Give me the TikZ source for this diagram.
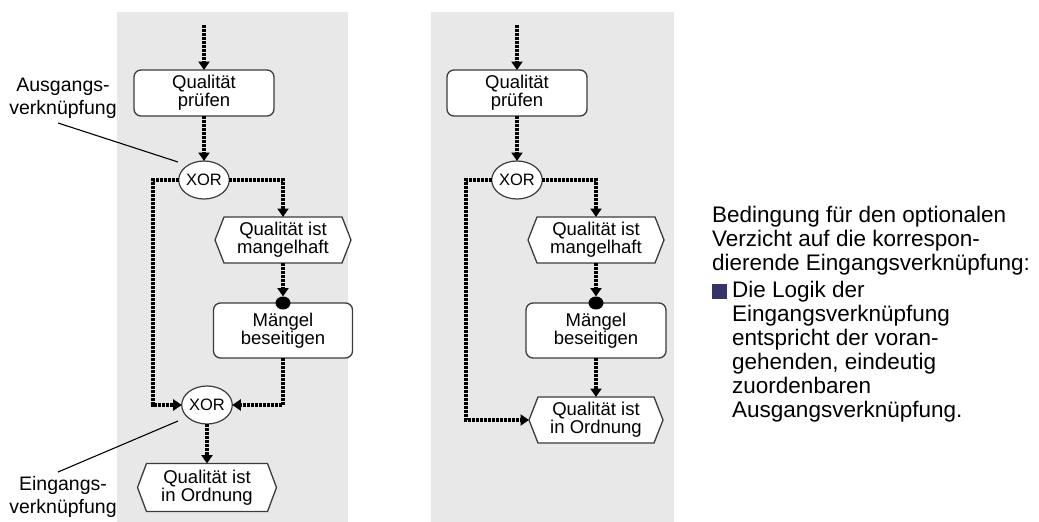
\documentclass[tikz,border=0pt]{standalone}
\usepackage{fontspec}
\setmainfont{Liberation Sans}
\usetikzlibrary{arrows.meta,shapes.geometric}
\definecolor{panel}{HTML}{E8E8E8}
\definecolor{edge}{HTML}{3C3C3C}
\definecolor{bulletblue}{HTML}{34346A}
\pgfdeclarelayer{bg}
\pgfsetlayers{bg,main}

% outline of an event node: a hexagon pointed to the left and right
\newcommand\eventoutline[1]{%
  \begin{pgfonlayer}{bg}
    \filldraw[fill=white,draw=edge,line width=1.3pt,line join=miter]
      ([xshift=9pt]#1.north west) -- ([xshift=-9pt]#1.north east) -- (#1.east)
      -- ([xshift=-9pt]#1.south east) -- ([xshift=9pt]#1.south west) -- (#1.west) -- cycle;
  \end{pgfonlayer}}

\begin{document}
\begin{tikzpicture}[x=1pt,y=-1pt,
  boxtext/.style={font=\fontsize{18.5}{16.5}\selectfont,align=center},
  func/.style={boxtext,draw=edge,fill=white,line width=1.3pt,rounded corners=7pt,
    inner sep=0pt,outer sep=0pt},
  event/.style={boxtext,inner sep=0pt,outer sep=0pt},
  gate/.style={ellipse,draw=edge,fill=white,line width=1.2pt,minimum width=40pt,
    minimum height=38pt,inner sep=0pt,outer sep=0pt,font=\fontsize{16.5}{16}\selectfont},
  knob/.style={ellipse,fill=black,minimum width=15pt,minimum height=13pt,inner sep=0pt,outer sep=0pt},
  flow/.style={line width=3.6pt,dash pattern=on 2.8pt off 1.2pt,
    -{Triangle[width=11pt,length=8.5pt]}},
  note/.style={font=\fontsize{19.5}{23}\selectfont,align=center},
  pointer/.style={line width=1.1pt,black},
  panelbox/.style={fill=panel},
  explain/.style={anchor=north west,align=left,inner sep=0pt,font=\fontsize{22.5}{24}\selectfont}]

\useasboundingbox (0,0) rectangle (1039,522);

\begin{pgfonlayer}{bg}
  \fill[panelbox] (117,12) rectangle (348,522);
  \fill[panelbox] (431,12) rectangle (674,522);
\end{pgfonlayer}

% ---------- process with input connector ----------
\coordinate (s1) at (204,25);
\node[func,minimum width=140pt,minimum height=46pt] (b1) at (204,93) {Qualität\\prüfen};
\node[gate] (x1) at (204,180) {XOR};
\node[event,minimum width=136pt,minimum height=46pt] (h1) at (283,240) {Qualität ist\\mangelhaft};
\eventoutline{h1}
\node[func,minimum width=139pt,minimum height=55pt] (m1) at (283,330.5) {Mängel\\beseitigen};
\node[knob] (d1) at (m1.north) {};
\node[gate] (x2) at (207,405) {XOR};
\node[event,minimum width=139pt,minimum height=48pt] (h2) at (207,487.5) {Qualität ist\\in Ordnung};
\eventoutline{h2}
\coordinate (lb) at (153,0);

\draw[flow] (s1) -- (b1.north);
\draw[flow] (b1.south) -- (x1.north);
\draw[flow] (x1.east) -| (h1.north);
\draw[flow] (h1.south) -- (d1.north);
\draw[flow] (x1.west) -| (lb |- x2.west) -- (x2.west);
\draw[flow] (m1.south) |- (x2.east);
\draw[flow] (x2.south) -- (h2.north);

% labels of the two connectors
\node[note] (n1) at (63,98) {Ausgangs-\\verknüpfung};
\node[note] (n2) at (63,497) {Eingangs-\\verknüpfung};
\coordinate (p1a) at (58,123);
\coordinate (p1b) at (178,162);
\coordinate (p2a) at (58,472);
\coordinate (p2b) at (178,421);
\draw[pointer] (p1a) -- (p1b);
\draw[pointer] (p2a) -- (p2b);

% ---------- process without input connector ----------
\coordinate (s2) at (517,25);
\node[func,minimum width=140pt,minimum height=46pt] (b2) at (517,93) {Qualität\\prüfen};
\node[gate] (x3) at (517,180) {XOR};
\node[event,minimum width=136pt,minimum height=46pt] (h3) at (596,240) {Qualität ist\\mangelhaft};
\eventoutline{h3}
\node[func,minimum width=140pt,minimum height=55pt] (m2) at (596,330.5) {Mängel\\beseitigen};
\node[knob] (d2) at (m2.north) {};
\node[event,minimum width=134pt,minimum height=46pt] (h4) at (596,420) {Qualität ist\\in Ordnung};
\eventoutline{h4}
\coordinate (rb) at (466,0);

\draw[flow] (s2) -- (b2.north);
\draw[flow] (b2.south) -- (x3.north);
\draw[flow] (x3.east) -| (h3.north);
\draw[flow] (h3.south) -- (d2.north);
\draw[flow] (x3.west) -| (rb |- h4.west) -- (h4.west);
\draw[flow] (m2.south) -- (h4.north);

% ---------- explanation ----------
\node[explain] (t1) at (712,206)
  {Bedingung für den optionalen\\Verzicht auf die korrespon-\\dierende Eingangsverknüpfung:};
\node[fill=bulletblue,minimum size=15pt,inner sep=0pt] (bul) at (719,291) {};
\node[explain] (t2) at (732,281)
  {Die Logik der\\Eingangsverknüpfung\\entspricht der voran-\\gehenden, eindeutig\\zuordenbaren\\Ausgangsverknüpfung.};
\end{tikzpicture}
\end{document}
